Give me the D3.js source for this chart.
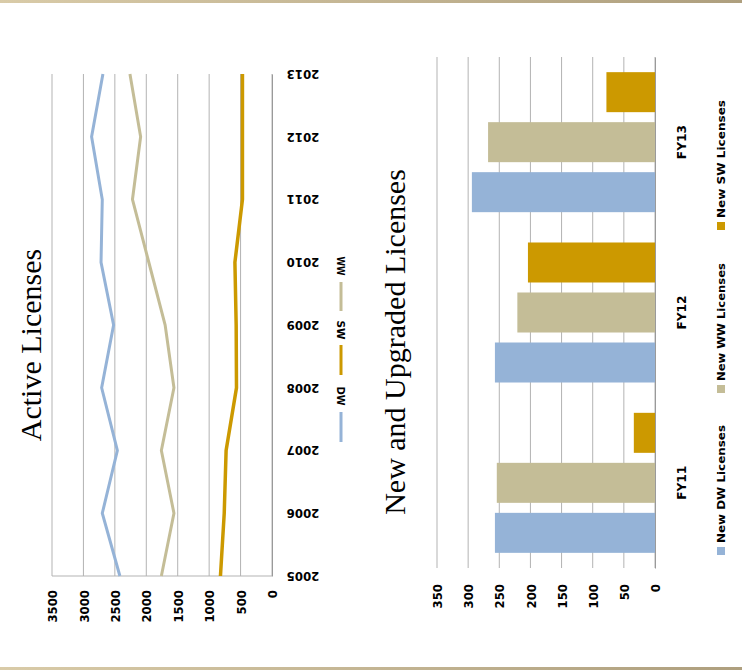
<!DOCTYPE html>
<html>
<head>
<meta charset="utf-8">
<script src="https://cdn.jsdelivr.net/npm/d3@7"></script>
<style>
  html, body { margin: 0; padding: 0; background: #ffffff; }
  svg { display: block; }
  .tick-lbl { font-family: "DejaVu Sans Condensed", "DejaVu Sans", sans-serif; font-stretch: condensed; font-weight: bold; fill: #000; }
  .title { font-family: "Liberation Serif", "Times New Roman", serif; fill: #000; }
</style>
</head>
<body>
<script>
// ---------- DATA ----------
const years = ["2005","2006","2007","2008","2009","2010","2011","2012","2013"];
const dwActive = [2420, 2700, 2460, 2710, 2520, 2720, 2700, 2870, 2690];
const wwActive = [1760, 1560, 1760, 1560, 1700, 1960, 2220, 2090, 2260];
const swActive = [820, 760, 730, 565, 570, 590, 470, 470, 470];
const activeSeries = ["DW", "SW", "WW"];
const activeTicks = [0, 500, 1000, 1500, 2000, 2500, 3000, 3500];

const fiscalYears = ["FY11", "FY12", "FY13"];
const newDW = [257, 257, 294];
const newWW = [254, 221, 268];
const newSW = [34, 204, 78];
const barSeries = ["New DW Licenses", "New WW Licenses", "New SW Licenses"];
const barTicks = [0, 50, 100, 150, 200, 250, 300, 350];

// ---------- STYLE ----------
const colors = { DW: "#95B3D7", WW: "#C4BD97", SW: "#CC9900" };
const gridColor = "#b3b3b3";
const fmt = d3.format("d");

const W = 742, H = 670;
const svg = d3.select("body").append("svg").attr("width", W).attr("height", H);

// decorative slide borders
const grad = svg.append("defs").append("linearGradient").attr("id", "bord");
grad.append("stop").attr("offset", "0%").attr("stop-color", "#d9cba8");
grad.append("stop").attr("offset", "100%").attr("stop-color", "#ae9f7e");
svg.append("rect").attr("x", 0).attr("y", 0).attr("width", W).attr("height", 3).attr("fill", "url(#bord)");
svg.append("rect").attr("x", 0).attr("y", 667).attr("width", W).attr("height", 3).attr("fill", "url(#bord)");

// ================= ACTIVE LICENSES (line chart, rotated) =================
const L = { left: 52, right: 272, top: 74, bottom: 576 };
const xVal = d3.scaleLinear().domain([0, 3500]).range([L.right, L.left]);
const yYear = d3.scalePoint().domain(years).range([L.bottom, L.top]);

const lc = svg.append("g");
lc.append("g").selectAll("line").data(activeTicks).join("line")
  .attr("x1", d => xVal(d)).attr("x2", d => xVal(d))
  .attr("y1", L.top).attr("y2", L.bottom)
  .attr("stroke", gridColor).attr("stroke-width", 1);
lc.append("line").attr("x1", L.left).attr("x2", L.right).attr("y1", L.bottom).attr("y2", L.bottom)
  .attr("stroke", gridColor);

const vAxis = lc.append("g").attr("transform", `translate(0,${L.bottom})`)
  .call(d3.axisBottom(xVal).tickValues(activeTicks).tickFormat(fmt).tickSize(0));
vAxis.select(".domain").remove();
vAxis.selectAll("text").attr("class", "tick-lbl").style("font-size", "13px")
  .attr("x", -14).attr("y", 0).attr("dy", "0.36em")
  .attr("transform", "rotate(-90)").style("text-anchor", "end");

const yAxis = lc.append("g").attr("transform", `translate(${L.right},0)`)
  .call(d3.axisRight(yYear).tickSize(0));
yAxis.select(".domain").attr("stroke", "#9a9a9a");
yAxis.selectAll("text").attr("class", "tick-lbl").style("font-size", "13px")
  .attr("x", 0).attr("y", 0).attr("dy", "0.36em")
  .attr("transform", "translate(31,0) rotate(180)").style("text-anchor", "middle");

const activeData = { DW: dwActive, WW: wwActive, SW: swActive };
const line = d3.line().x(d => xVal(d.v)).y(d => yYear(d.y));
["WW", "DW", "SW"].forEach(k => {
  lc.append("path")
    .datum(years.map((y, i) => ({ y, v: activeData[k][i] })))
    .attr("fill", "none").attr("stroke", colors[k])
    .attr("stroke-width", k === "SW" ? 3.5 : 3)
    .attr("stroke-linejoin", "miter")
    .attr("d", line);
});

const legPos = { WW: [266, 282, 311], SW: [330, 345, 375], DW: [396, 412, 442] };
activeSeries.forEach(k => {
  const p = legPos[k];
  lc.append("text").attr("class", "tick-lbl").style("font-size", "10.5px")
    .attr("transform", `translate(341,${p[0]}) rotate(90)`)
    .attr("text-anchor", "middle").attr("dy", "0.36em")
    .attr("textLength", 19).attr("lengthAdjust", "spacingAndGlyphs")
    .text(k);
  lc.append("line").attr("x1", 341).attr("x2", 341).attr("y1", p[1]).attr("y2", p[2])
    .attr("stroke", colors[k]).attr("stroke-width", 3);
});

svg.append("text").attr("class", "title").style("font-size", "30px")
  .attr("transform", "translate(41,345) rotate(-90)").attr("text-anchor", "middle")
  .text("Active Licenses");

// ================= NEW AND UPGRADED LICENSES (bar chart, rotated) =================
const B = { left: 437, right: 655, top: 57, bottom: 568 };
const xBar = d3.scaleLinear().domain([0, 350]).range([B.right, B.left]);
const yCat = d3.scaleBand().domain(fiscalYears).range([B.bottom, B.top])
  .paddingInner(0.178).paddingOuter(0.089);
const seriesKeys = ["DW", "WW", "SW"];
const yInner = d3.scaleBand().domain(seriesKeys).range([yCat.bandwidth(), 0])
  .paddingInner(0.2).paddingOuter(0);

const bc = svg.append("g");
bc.append("g").selectAll("line").data(barTicks).join("line")
  .attr("x1", d => xBar(d)).attr("x2", d => xBar(d))
  .attr("y1", B.top).attr("y2", B.bottom)
  .attr("stroke", gridColor).attr("stroke-width", 1);

const barData = { DW: newDW, WW: newWW, SW: newSW };
fiscalYears.forEach((fy, i) => {
  const g = bc.append("g").attr("transform", `translate(0,${yCat(fy)})`);
  seriesKeys.forEach(k => {
    g.append("rect")
      .attr("x", xBar(barData[k][i]))
      .attr("y", yInner(k))
      .attr("width", xBar(0) - xBar(barData[k][i]))
      .attr("height", yInner.bandwidth())
      .attr("fill", colors[k]);
  });
});

const bAxis = bc.append("g").attr("transform", `translate(0,${B.bottom})`)
  .call(d3.axisBottom(xBar).tickValues(barTicks).tickFormat(fmt).tickSize(0));
bAxis.select(".domain").remove();
bAxis.selectAll("text").attr("class", "tick-lbl").style("font-size", "13px")
  .attr("x", -16).attr("y", 0).attr("dy", "0.36em")
  .attr("transform", "rotate(-90)").style("text-anchor", "end");

const cAxis = bc.append("g").attr("transform", `translate(${B.right},0)`)
  .call(d3.axisRight(yCat).tickSize(0));
cAxis.select(".domain").attr("stroke", "#9a9a9a");
cAxis.selectAll("text").attr("class", "tick-lbl").style("font-size", "12px")
  .attr("x", 0).attr("y", 0).attr("dy", "0.36em")
  .attr("textLength", 34).attr("lengthAdjust", "spacingAndGlyphs")
  .attr("transform", "translate(27,0) rotate(-90)").style("text-anchor", "middle");

const barLegY = { DW: 551, WW: 389, SW: 226 };
seriesKeys.forEach((k, i) => {
  const cy = barLegY[k];
  bc.append("rect").attr("x", 717).attr("y", cy - 4).attr("width", 8).attr("height", 8)
    .attr("fill", colors[k]);
  bc.append("text").attr("class", "tick-lbl").style("font-size", "11px")
    .attr("transform", `translate(721,${cy - 8}) rotate(-90)`)
    .attr("dy", "0.36em").attr("text-anchor", "start")
    .attr("textLength", 118).attr("lengthAdjust", "spacingAndGlyphs")
    .text(barSeries[i]);
});

svg.append("text").attr("class", "title").style("font-size", "30px")
  .attr("transform", "translate(405,342) rotate(-90)").attr("text-anchor", "middle")
  .text("New and Upgraded Licenses");
</script>
</body>
</html>
